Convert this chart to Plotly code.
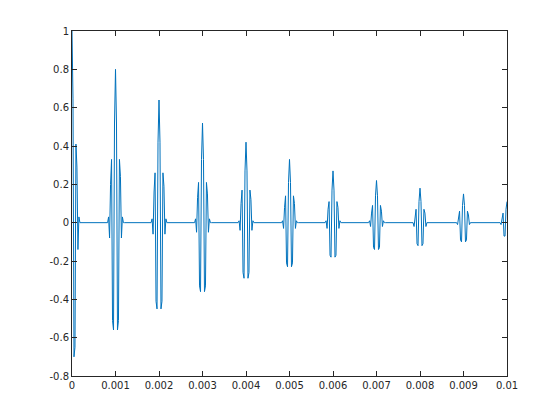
import plotly.graph_objects as go

# Sampling of the signal (samples per second) and spacing between bursts (samples)
FS = 44000
BURST_DELAY = 44
N_SAMPLES = 441

# Burst sample values
burst_0 = [1.00, 0.65, -0.70, -0.65, 0.41, 0.29, -0.14, 0.03]            # offsets 0..7
burst_1 = [0.03, -0.08, 0.20, 0.33, -0.51, -0.56, 0.52, 0.80, 0.52, -0.56, -0.51, 0.33, 0.24, -0.08, 0.03]
burst_2 = [0.02, -0.06, 0.16, 0.26, -0.41, -0.45, 0.42, 0.64, 0.42, -0.45, -0.41, 0.26, 0.19, -0.06, 0.02]
burst_3 = [0.02, -0.05, 0.13, 0.21, -0.33, -0.36, 0.33, 0.52, 0.33, -0.36, -0.33, 0.21, 0.15, -0.05, 0.02]
burst_4 = [0.01, -0.04, 0.10, 0.17, -0.26, -0.29, 0.27, 0.42, 0.27, -0.29, -0.26, 0.17, 0.12, -0.04, 0.01]
burst_5 = [0.01, -0.03, 0.08, 0.14, -0.21, -0.23, 0.21, 0.33, 0.21, -0.23, -0.21, 0.14, 0.10, -0.03, 0.01]
burst_6 = [0.01, -0.03, 0.07, 0.11, -0.17, -0.18, 0.17, 0.27, 0.17, -0.18, -0.17, 0.11, 0.08, -0.03, 0.01]
burst_7 = [0.01, -0.02, 0.05, 0.09, -0.13, -0.14, 0.14, 0.22, 0.14, -0.14, -0.13, 0.09, 0.06, -0.02, 0.01]
burst_8 = [0.00, -0.02, 0.04, 0.07, -0.11, -0.12, 0.11, 0.18, 0.11, -0.12, -0.11, 0.07, 0.05, -0.02, 0.00]
burst_9 = [0.00, -0.01, 0.03, 0.06, -0.09, -0.10, 0.09, 0.15, 0.09, -0.10, -0.09, 0.06, 0.04, -0.01, 0.00]
burst_10 = [0.00, -0.01, 0.03, 0.05, -0.07, -0.07, 0.07, 0.11]           # offsets -7..0

x_tick_vals = [0, 0.001, 0.002, 0.003, 0.004, 0.005, 0.006, 0.007, 0.008, 0.009, 0.01]
x_tick_text = ["0", "0.001", "0.002", "0.003", "0.004", "0.005", "0.006", "0.007", "0.008", "0.009", "0.01"]
y_tick_vals = [-0.8, -0.6, -0.4, -0.2, 0, 0.2, 0.4, 0.6, 0.8, 1]
y_tick_text = ["-0.8", "-0.6", "-0.4", "-0.2", "0", "0.2", "0.4", "0.6", "0.8", "1"]

# Assemble the sampled signal
signal = [0.0] * N_SAMPLES
bursts = [(0, burst_0, 0)]
for k, b in enumerate([burst_1, burst_2, burst_3, burst_4, burst_5,
                       burst_6, burst_7, burst_8, burst_9], start=1):
    bursts.append((k * BURST_DELAY, b, -7))
bursts.append((10 * BURST_DELAY, burst_10, -7))
for center, vals, first in bursts:
    for i, v in enumerate(vals):
        n = center + first + i
        if 0 <= n < N_SAMPLES:
            signal[n] = v
t = [n / FS for n in range(N_SAMPLES)]

fig = go.Figure(go.Scatter(x=t, y=signal, mode="lines",
                           line=dict(color="#0072BD", width=1)))

axis_common = dict(showline=True, linecolor="#262626", linewidth=1, mirror="ticks",
                   ticks="inside", ticklen=5, tickcolor="#262626", tickwidth=1,
                   showgrid=False, zeroline=False,
                   tickfont=dict(family="DejaVu Sans", size=10, color="#262626"))

fig.update_layout(
    width=560, height=420,
    margin=dict(l=72, r=53, t=31, b=44),
    paper_bgcolor="white", plot_bgcolor="white",
    showlegend=False,
    xaxis=dict(range=[0, 0.01], tickvals=x_tick_vals, ticktext=x_tick_text, **axis_common),
    yaxis=dict(range=[-0.8, 1], tickvals=y_tick_vals, ticktext=y_tick_text, **axis_common),
)

fig.write_html("out.html",
               config={"displayModeBar": False},
               post_script="document.body.style.margin='0';document.body.style.padding='0';")
